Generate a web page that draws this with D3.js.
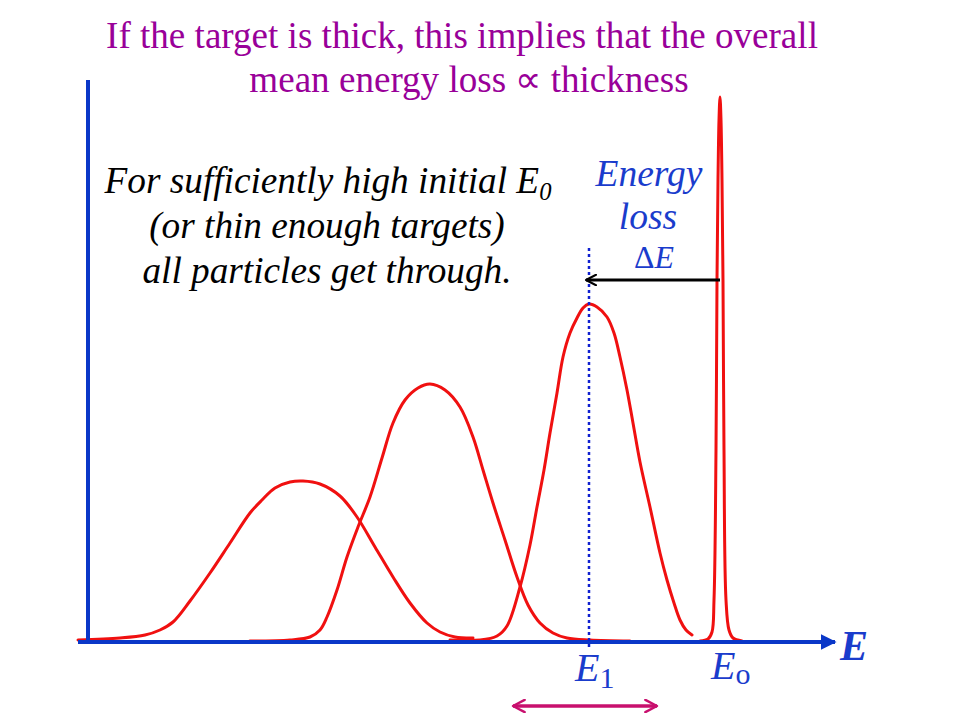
<!DOCTYPE html>
<html>
<head>
<meta charset="utf-8">
<script src="https://cdn.jsdelivr.net/npm/d3@7"></script>
</head>
<body style="margin:0;background:#fff">
<svg id="chart" width="960" height="720"></svg>
<script>
// ---- Data (energy in arbitrary units, counts in arbitrary units) ----
const curveThick = [[-10,2],[32,4],[57,7],[72,12],[85,20],[102,41],[122,69],[142,99],[162,129],[174,142],[187,154],[202,160],[215,161],[232,158],[252,146],[269,125],[287,95],[305,65],[322,39],[339,19],[352,10],[367,5],[385,4]];
const curveMedium = [[162,1],[202,2],[222,5],[232,12],[239,25],[249,52],[259,85],[270,115],[282,145],[294,184],[305,219],[317,242],[330,254],[342,258],[357,252],[372,235],[385,205],[395,172],[405,139],[417,102],[429,65],[440,37],[452,19],[465,9],[479,4],[502,2],[542,1]];
const curveThin = [[362,2],[392,2],[409,6],[419,16],[432,55],[442,97],[449,135],[456,172],[462,209],[469,249],[475,285],[482,309],[489,324],[495,334],[501,338],[509,335],[519,325],[526,309],[532,285],[539,252],[545,219],[552,180],[562,135],[572,89],[579,62],[586,39],[592,22],[598,12],[604,7]];
const curveBeam = [[612,1],[620,3],[624,10],[626,42],[628,192],[629,362],[630,462],[631,522],[632,545],[633,522],[634,462],[635,362],[636,192],[638,42],[641,12],[645,4],[654,1]];
const curves = [curveThick, curveMedium, curveThin, curveBeam];

const E0 = 632;        // initial beam energy
const E1 = 501;        // mean energy after thin target
const E1markerTop = 394; // top of the dotted marker (count units)
const spreadRange = [425, 569]; // energy straggling span (magenta arrow)

const titleLines = ["If the target is thick, this implies that the overall", "mean energy loss \u221D thickness"];
const noteLines = ["For sufficiently high initial E", "(or thin enough targets)", "all particles get through."];
const lossLabel = ["Energy", "loss"];

// ---- Scales ----
const svg = d3.select("#chart");
const x = d3.scaleLinear().domain([-10, 747]).range([78, 835]);
const y = d3.scaleLinear().domain([0, 560]).range([642, 82]);

const SERIF = "Liberation Serif";
const AXIS_BLUE = "#0a37c8";
const TEXT_BLUE = "#1a3ccc";
const RED = "#f01010";

const defs = svg.append("defs");
defs.append("marker").attr("id", "axisHead")
  .attr("viewBox", "0 0 10 10").attr("refX", 9).attr("refY", 5)
  .attr("markerWidth", 4).attr("markerHeight", 4).attr("markerUnits", "strokeWidth")
  .attr("orient", "auto")
  .append("path").attr("d", "M0,0 L10,5 L0,10 Z").attr("fill", AXIS_BLUE);
function chevron(id, color) {
  defs.append("marker").attr("id", id)
    .attr("viewBox", "0 0 12 12").attr("refX", 10.5).attr("refY", 6)
    .attr("markerWidth", 4.2).attr("markerHeight", 4.2).attr("markerUnits", "strokeWidth")
    .attr("orient", "auto-start-reverse")
    .append("path").attr("d", "M1,1 L10.5,6 L1,11")
    .attr("fill", "none").attr("stroke", color).attr("stroke-width", 2).attr("stroke-linecap", "round").attr("stroke-linejoin", "round");
}
chevron("blackHead", "#000");
chevron("magHead", "#c8106e");

// ---- Curves ----
const line = d3.line().x(d => x(d[0])).y(d => y(d[1])).curve(d3.curveCatmullRom.alpha(0.5));
svg.append("g").selectAll("path").data(curves).join("path")
  .attr("d", line).attr("fill", "none").attr("stroke", RED)
  .attr("stroke-width", 3).attr("stroke-linejoin", "round").attr("stroke-linecap", "round");

// ---- Axes ----
svg.append("line").attr("x1", x(0)).attr("x2", x(0)).attr("y1", y(562)).attr("y2", y(0))
  .attr("stroke", AXIS_BLUE).attr("stroke-width", 4);
svg.append("line").attr("x1", x(-10)).attr("x2", x(747)).attr("y1", y(0)).attr("y2", y(0))
  .attr("stroke", AXIS_BLUE).attr("stroke-width", 4).attr("marker-end", "url(#axisHead)");

// dotted marker at E1
svg.append("line").attr("x1", x(E1)).attr("x2", x(E1)).attr("y1", y(E1markerTop)).attr("y2", y(-6))
  .attr("stroke", "#1020d0").attr("stroke-width", 2.5).attr("stroke-dasharray", "3,3");

// energy loss arrow
svg.append("line").attr("x1", x(E0)).attr("x2", x(E1) - 3).attr("y1", y(362)).attr("y2", y(362))
  .attr("stroke", "#000").attr("stroke-width", 3).attr("marker-end", "url(#blackHead)");

// straggling double arrow
svg.append("line").attr("x1", x(spreadRange[0])).attr("x2", x(spreadRange[1])).attr("y1", y(-64)).attr("y2", y(-64))
  .attr("stroke", "#c8106e").attr("stroke-width", 3.5)
  .attr("marker-start", "url(#magHead)").attr("marker-end", "url(#magHead)");

// ---- Text helpers ----
function txt(px, py, opts) {
  const t = svg.append("text").attr("x", px).attr("y", py)
    .attr("font-family", SERIF).style("font-family", SERIF)
    .attr("font-size", opts.size).attr("fill", opts.fill)
    .attr("text-anchor", opts.anchor || "start");
  if (opts.italic) t.style("font-style", "italic");
  if (opts.bold) t.style("font-weight", "bold");
  return t;
}
function span(t, s, opts) {
  const sp = t.append("tspan").style("font-family", SERIF).text(s);
  if (opts && opts.dy) sp.attr("dy", opts.dy);
  if (opts && opts.size) sp.attr("font-size", opts.size);
  if (opts && opts.italic !== undefined) sp.style("font-style", opts.italic ? "italic" : "normal");
  return sp;
}
// scale a text's font size so its rendered width matches the reference width
function fit(t, width) {
  const base = +t.attr("font-size");
  const w = t.node().getComputedTextLength();
  if (w > 0) t.attr("font-size", (base * width / w).toFixed(2));
  return +t.attr("font-size");
}

const t1 = txt(462, 48, {size: 36, fill: "#990099", anchor: "middle"}).text(titleLines[0]);
const tSize = fit(t1, 712);
txt(469, 92, {size: tSize, fill: "#990099", anchor: "middle"}).text(titleLines[1]);

const n1 = txt(328, 193, {size: 33, fill: "#000", anchor: "middle", italic: true});
span(n1, noteLines[0]);
const sub0 = span(n1, "0", {dy: 7, size: 22});
const nSize = fit(n1, 447);
sub0.attr("font-size", (nSize * 0.66).toFixed(2));
txt(327, 238, {size: nSize, fill: "#000", anchor: "middle", italic: true}).text(noteLines[1]);
txt(327, 283, {size: nSize, fill: "#000", anchor: "middle", italic: true}).text(noteLines[2]);

const en = txt(649, 186, {size: 31, fill: TEXT_BLUE, anchor: "middle", italic: true}).text(lossLabel[0]);
const eSize = fit(en, 107);
txt(648, 229, {size: eSize, fill: TEXT_BLUE, anchor: "middle", italic: true}).text(lossLabel[1]);
const dE = txt(654, 268, {size: eSize * 0.85, fill: TEXT_BLUE, anchor: "middle"});
span(dE, "\u0394");
span(dE, "E", {italic: true});

txt(840, 660, {size: 42, fill: TEXT_BLUE, italic: true, bold: true}).text("E");

const e1 = txt(x(E1) - 14, 681, {size: 40, fill: TEXT_BLUE});
span(e1, "E", {italic: true});
span(e1, "1", {dy: 7, size: 30});
const e0 = txt(x(E0) - 9, 679, {size: 40, fill: TEXT_BLUE});
span(e0, "E", {italic: true});
span(e0, "o", {dy: 5, size: 30});
</script>
</body>
</html>
